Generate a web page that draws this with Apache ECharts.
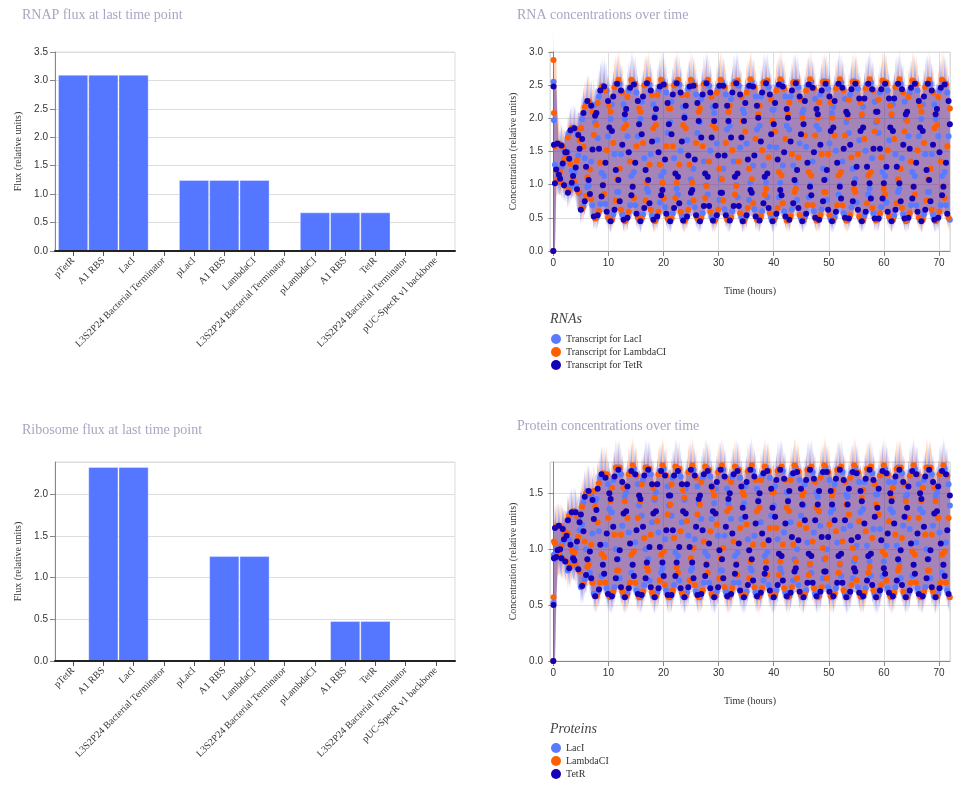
<!DOCTYPE html>
<html>
<head>
<meta charset="utf-8">
<title>Flux and concentrations</title>
<script src="https://cdn.jsdelivr.net/npm/echarts@6/dist/echarts.min.js"></script>
<style>
html, body { margin: 0; padding: 0; background: #fff; }
#chart { width: 972px; height: 809px; }
</style>
</head>
<body>
<div id="chart"></div>
<script>
// ---- bar charts (flux at last time point) ----
var partNames = ['pTetR', 'A1 RBS', 'LacI', 'L3S2P24 Bacterial Terminator',
  'pLacI', 'A1 RBS', 'LambdaCI', 'L3S2P24 Bacterial Terminator',
  'pLambdaCI', 'A1 RBS', 'TetR', 'L3S2P24 Bacterial Terminator', 'pUC-SpecR v1 backbone'];
var rnapFlux = [3.1, 3.1, 3.1, 0, 1.25, 1.25, 1.25, 0, 0.68, 0.68, 0.68, 0, 0];
var ribosomeFlux = [0, 2.33, 2.33, 0, 0, 1.26, 1.26, 0, 0, 0.48, 0.48, 0, 0];

// ---- time series (hours) ----
// three start-up samples, then a sample every sampleStep hours, each followed by a mid-step sample
var firstTimes = [0, 0.04, 0.12];
var sampleStart = 0.3;
var sampleStep = 0.47;
var sampleCount = 153;

// values at firstTimes + regular samples
var rnaLacI = [0, 2.55, 1.97,
  1.30, 1.10, 1.61, 1.02, 1.43,  1.49, 0.96, 1.86, 0.99, 1.44,  1.85, 0.67, 2.22, 0.99, 1.35,
  2.20, 0.50, 2.33, 1.18, 1.13,  2.42, 0.47, 2.21, 1.46, 0.89,  2.52, 0.55, 1.99, 1.73, 0.69,
  2.56, 0.69, 1.73, 1.99, 0.55,  2.52, 0.89, 1.46, 2.21, 0.47,  2.42, 1.13, 1.19, 2.39, 0.46,
  2.25, 1.40, 0.94, 2.51, 0.53,  2.04, 1.67, 0.73, 2.56, 0.66,  1.78, 1.94, 0.57, 2.54, 0.85,
  1.51, 2.17, 0.48, 2.45, 1.08,  1.24, 2.36, 0.46, 2.29, 1.35,  0.99, 2.49, 0.51, 2.08, 1.62,
  0.77, 2.55, 0.63, 1.83, 1.89,  0.60, 2.55, 0.81, 1.57, 2.13,  0.50, 2.47, 1.03, 1.29, 2.33,
  0.46, 2.33, 1.29, 1.03, 2.47,  0.50, 2.13, 1.57, 0.81, 2.55,  0.60, 1.89, 1.83, 0.63, 2.56,
  0.77, 1.62, 2.08, 0.51, 2.49,  0.99, 1.35, 2.29, 0.46, 2.36,  1.24, 1.08, 2.45, 0.48, 2.17,
  1.51, 0.85, 2.54, 0.57, 1.94,  1.78, 0.66, 2.56, 0.73, 1.67,  2.04, 0.53, 2.51, 0.94, 1.40,
  2.25, 0.46, 2.39, 1.19, 1.13,  2.42, 0.47, 2.21, 1.46, 0.89,  2.52, 0.55, 1.99, 1.73, 0.69,
  2.56, 0.69, 1.73];
var rnaLambdaCI = [0, 2.88, 2.08,
  1.58, 1.19, 1.20, 1.57, 0.98,  1.71, 1.31, 1.09, 1.84, 0.89,  1.85, 1.57, 0.83, 2.26, 0.78,
  1.75, 1.90, 0.60, 2.47, 0.86,  1.52, 2.19, 0.47, 2.47, 1.08,  1.24, 2.39, 0.45, 2.32, 1.35,
  0.98, 2.52, 0.50, 2.10, 1.63,  0.76, 2.58, 0.62, 1.85, 1.90,  0.59, 2.58, 0.80, 1.58, 2.15,
  0.49, 2.50, 1.03, 1.30, 2.35,  0.45, 2.35, 1.30, 1.03, 2.50,  0.49, 2.15, 1.58, 0.80, 2.58,
  0.59, 1.90, 1.85, 0.62, 2.58,  0.76, 1.63, 2.10, 0.50, 2.52,  0.98, 1.35, 2.32, 0.45, 2.39,
  1.24, 1.08, 2.47, 0.47, 2.19,  1.52, 0.85, 2.57, 0.57, 1.96,  1.80, 0.65, 2.59, 0.72, 1.69,
  2.06, 0.52, 2.54, 0.94, 1.41,  2.28, 0.46, 2.42, 1.19, 1.14,  2.45, 0.46, 2.24, 1.46, 0.89,
  2.55, 0.54, 2.01, 1.74, 0.69,  2.59, 0.69, 1.74, 2.01, 0.54,  2.55, 0.89, 1.46, 2.24, 0.46,
  2.45, 1.14, 1.19, 2.42, 0.46,  2.28, 1.41, 0.94, 2.54, 0.52,  2.06, 1.69, 0.72, 2.59, 0.65,
  1.80, 1.96, 0.57, 2.57, 0.85,  1.52, 2.19, 0.47, 2.47, 1.08,  1.24, 2.39, 0.45, 2.32, 1.35,
  0.98, 2.52, 0.50];
var rnaTetR = [0, 2.48, 1.60,
  1.02, 1.62, 1.09, 1.32, 1.49,  0.88, 1.82, 1.13, 1.26, 1.75,  0.62, 2.08, 1.27, 1.07, 2.19,
  0.52, 2.08, 1.54, 0.82, 2.48,  0.59, 1.86, 1.81, 0.62, 2.52,  0.75, 1.60, 2.06, 0.50, 2.46,
  0.97, 1.33, 2.26, 0.45, 2.33,  1.22, 1.07, 2.42, 0.47, 2.14,  1.49, 0.84, 2.51, 0.56, 1.91,
  1.76, 0.65, 2.53, 0.72, 1.65,  2.01, 0.52, 2.48, 0.92, 1.38,  2.23, 0.45, 2.36, 1.17, 1.12,
  2.39, 0.46, 2.19, 1.44, 0.88,  2.49, 0.54, 1.96, 1.71, 0.68,  2.53, 0.68, 1.71, 1.96, 0.54,
  2.49, 0.88, 1.44, 2.19, 0.46,  2.39, 1.12, 1.17, 2.36, 0.45,  2.23, 1.38, 0.92, 2.48, 0.52,
  2.01, 1.65, 0.72, 2.53, 0.65,  1.76, 1.91, 0.56, 2.51, 0.84,  1.49, 2.14, 0.47, 2.42, 1.07,
  1.22, 2.33, 0.45, 2.26, 1.33,  0.97, 2.46, 0.50, 2.06, 1.60,  0.75, 2.52, 0.62, 1.81, 1.86,
  0.59, 2.52, 0.79, 1.54, 2.10,  0.49, 2.44, 1.02, 1.27, 2.30,  0.45, 2.30, 1.27, 1.02, 2.44,
  0.49, 2.10, 1.54, 0.79, 2.52,  0.59, 1.86, 1.81, 0.62, 2.52,  0.75, 1.60, 2.06, 0.50, 2.46,
  0.97, 1.33, 2.26];

// values half a step after each regular sample
var rnaLacIMid = [
  1.60, 1.13, 1.27, 1.53, 0.98,  1.78, 1.21, 1.18, 1.79, 0.87,  1.99, 1.40, 0.96, 2.23, 0.69,
  1.94, 1.70, 0.71, 2.49, 0.71,  1.73, 1.99, 0.55, 2.52, 0.89,  1.46, 2.21, 0.47, 2.42, 1.13,
  1.19, 2.39, 0.47, 2.25, 1.40,  0.94, 2.51, 0.53, 2.04, 1.67,  0.73, 2.56, 0.66, 1.78, 1.94,
  0.57, 2.54, 0.85, 1.51, 2.17,  0.48, 2.45, 1.08, 1.24, 2.36,  0.46, 2.29, 1.35, 0.99, 2.49,
  0.51, 2.08, 1.62, 0.77, 2.55,  0.63, 1.83, 1.89, 0.60, 2.55,  0.81, 1.56, 2.13, 0.50, 2.47,
  1.03, 1.29, 2.33, 0.46, 2.33,  1.29, 1.03, 2.47, 0.50, 2.13,  1.56, 0.81, 2.55, 0.60, 1.89,
  1.83, 0.63, 2.55, 0.77, 1.62,  2.08, 0.51, 2.49, 0.99, 1.35,  2.29, 0.46, 2.36, 1.24, 1.08,
  2.45, 0.48, 2.17, 1.51, 0.85,  2.54, 0.57, 1.94, 1.78, 0.66,  2.56, 0.73, 1.67, 2.04, 0.53,
  2.51, 0.94, 1.40, 2.25, 0.47,  2.39, 1.19, 1.13, 2.42, 0.47,  2.21, 1.46, 0.89, 2.52, 0.55,
  1.99, 1.73, 0.69, 2.56, 0.69,  1.73, 1.99, 0.55, 2.52, 0.89,  1.46, 2.21, 0.47, 2.42, 1.13,
  1.19, 2.39, 0.47];
var rnaLambdaCIMid = [
  1.06, 1.62, 1.04, 1.38, 1.43,  0.91, 1.85, 1.05, 1.36, 1.67,  0.64, 2.17, 1.11, 1.23, 2.10,
  0.49, 2.23, 1.33, 0.99, 2.42,  0.50, 2.10, 1.63, 0.76, 2.58,  0.62, 1.85, 1.90, 0.59, 2.58,
  0.80, 1.58, 2.15, 0.49, 2.50,  1.03, 1.30, 2.35, 0.45, 2.35,  1.30, 1.03, 2.50, 0.49, 2.15,
  1.58, 0.80, 2.58, 0.59, 1.90,  1.85, 0.62, 2.58, 0.76, 1.63,  2.10, 0.50, 2.52, 0.98, 1.35,
  2.32, 0.45, 2.39, 1.24, 1.08,  2.47, 0.47, 2.19, 1.52, 0.85,  2.57, 0.57, 1.96, 1.80, 0.65,
  2.59, 0.72, 1.69, 2.06, 0.52,  2.54, 0.94, 1.41, 2.28, 0.46,  2.42, 1.19, 1.14, 2.45, 0.46,
  2.24, 1.46, 0.89, 2.55, 0.54,  2.01, 1.74, 0.69, 2.59, 0.69,  1.74, 2.01, 0.54, 2.55, 0.89,
  1.46, 2.24, 0.46, 2.45, 1.14,  1.19, 2.42, 0.46, 2.28, 1.41,  0.94, 2.54, 0.52, 2.06, 1.69,
  0.72, 2.59, 0.65, 1.80, 1.96,  0.57, 2.57, 0.85, 1.52, 2.19,  0.47, 2.47, 1.08, 1.24, 2.39,
  0.45, 2.32, 1.35, 0.98, 2.52,  0.50, 2.10, 1.63, 0.76, 2.58,  0.62, 1.85, 1.90, 0.59, 2.58,
  0.80, 1.58, 2.15];
var rnaTetRMid = [
  1.23, 1.15, 1.59, 0.99, 1.49,  1.39, 1.03, 1.85, 0.93, 1.54,  1.69, 0.75, 2.26, 0.86, 1.53,
  2.04, 0.54, 2.42, 0.99, 1.33,  2.26, 0.45, 2.33, 1.22, 1.07,  2.42, 0.47, 2.14, 1.49, 0.84,
  2.51, 0.56, 1.91, 1.76, 0.65,  2.53, 0.72, 1.65, 2.01, 0.52,  2.48, 0.92, 1.38, 2.23, 0.45,
  2.36, 1.17, 1.12, 2.39, 0.46,  2.19, 1.44, 0.88, 2.49, 0.54,  1.96, 1.71, 0.68, 2.53, 0.68,
  1.71, 1.96, 0.54, 2.49, 0.88,  1.44, 2.19, 0.46, 2.39, 1.12,  1.17, 2.36, 0.45, 2.23, 1.38,
  0.92, 2.48, 0.52, 2.01, 1.65,  0.72, 2.53, 0.65, 1.76, 1.91,  0.56, 2.51, 0.84, 1.49, 2.14,
  0.47, 2.42, 1.07, 1.22, 2.33,  0.45, 2.26, 1.33, 0.97, 2.46,  0.50, 2.06, 1.60, 0.75, 2.52,
  0.62, 1.81, 1.86, 0.59, 2.52,  0.79, 1.54, 2.10, 0.49, 2.44,  1.02, 1.27, 2.30, 0.45, 2.30,
  1.27, 1.02, 2.44, 0.49, 2.10,  1.54, 0.79, 2.52, 0.59, 1.86,  1.81, 0.62, 2.52, 0.75, 1.60,
  2.06, 0.50, 2.46, 0.97, 1.33,  2.26, 0.45, 2.33, 1.22, 1.07,  2.42, 0.47, 2.14, 1.49, 0.84,
  2.51, 0.56, 1.91];

var proteinLacI = [0, 0.52, 0.95,
  0.91, 1.21, 0.94, 1.06, 1.14,  0.81, 1.32, 0.95, 1.01, 1.28,  0.66, 1.42, 1.00, 0.90, 1.48,
  0.60, 1.45, 1.16, 0.76, 1.67,  0.65, 1.36, 1.33, 0.66, 1.73,  0.74, 1.21, 1.47, 0.60, 1.69,
  0.86, 1.06, 1.58, 0.57, 1.62,  1.00, 0.91, 1.67, 0.58, 1.51,  1.15, 0.79, 1.72, 0.63, 1.39,
  1.30, 0.68, 1.73, 0.72, 1.24,  1.44, 0.61, 1.70, 0.83, 1.09,  1.56, 0.57, 1.64, 0.97, 0.94,
  1.65, 0.58, 1.54, 1.12, 0.81,  1.71, 0.62, 1.41, 1.27, 0.70,  1.73, 0.70, 1.27, 1.41, 0.62,
  1.71, 0.81, 1.12, 1.54, 0.58,  1.65, 0.94, 0.97, 1.64, 0.57,  1.56, 1.09, 0.83, 1.70, 0.61,
  1.44, 1.24, 0.72, 1.73, 0.68,  1.30, 1.39, 0.63, 1.72, 0.79,  1.15, 1.51, 0.58, 1.67, 0.91,
  1.00, 1.62, 0.57, 1.58, 1.06,  0.86, 1.69, 0.60, 1.47, 1.21,  0.74, 1.73, 0.66, 1.33, 1.36,
  0.65, 1.72, 0.76, 1.18, 1.49,  0.59, 1.68, 0.89, 1.03, 1.60,  0.57, 1.60, 1.03, 0.89, 1.68,
  0.59, 1.49, 1.18, 0.76, 1.72,  0.65, 1.36, 1.33, 0.66, 1.73,  0.74, 1.21, 1.47, 0.60, 1.69,
  0.86, 1.06, 1.58];
var proteinLambdaCI = [0, 0.57, 1.07,
  1.05, 0.95, 1.21, 0.91, 1.12,  1.14, 0.85, 1.34, 0.87, 1.11,  1.31, 0.69, 1.50, 0.86, 1.04,
  1.52, 0.58, 1.59, 0.96, 0.93,  1.67, 0.58, 1.55, 1.13, 0.81,  1.73, 0.62, 1.43, 1.28, 0.70,
  1.75, 0.70, 1.28, 1.43, 0.62,  1.73, 0.81, 1.13, 1.55, 0.58,  1.67, 0.95, 0.98, 1.66, 0.57,
  1.58, 1.10, 0.84, 1.72, 0.61,  1.46, 1.25, 0.72, 1.75, 0.68,  1.31, 1.40, 0.63, 1.74, 0.79,
  1.16, 1.53, 0.58, 1.69, 0.92,  1.01, 1.64, 0.57, 1.60, 1.07,  0.87, 1.71, 0.60, 1.48, 1.22,
  0.74, 1.75, 0.66, 1.34, 1.37,  0.65, 1.74, 0.77, 1.19, 1.51,  0.59, 1.70, 0.89, 1.04, 1.62,
  0.57, 1.62, 1.04, 0.89, 1.70,  0.59, 1.51, 1.19, 0.77, 1.74,  0.65, 1.37, 1.34, 0.66, 1.75,
  0.74, 1.22, 1.48, 0.60, 1.71,  0.87, 1.07, 1.60, 0.57, 1.64,  1.01, 0.92, 1.69, 0.58, 1.53,
  1.16, 0.79, 1.74, 0.63, 1.40,  1.31, 0.68, 1.75, 0.72, 1.25,  1.46, 0.61, 1.72, 0.84, 1.10,
  1.58, 0.57, 1.66, 0.98, 0.95,  1.67, 0.58, 1.55, 1.13, 0.81,  1.73, 0.62, 1.43, 1.28, 0.70,
  1.75, 0.70, 1.28];
var proteinTetR = [0, 0.50, 0.92,
  1.19, 0.99, 1.00, 1.18, 0.89,  1.26, 1.04, 0.92, 1.33, 0.82,  1.31, 1.16, 0.77, 1.52, 0.74,
  1.27, 1.35, 0.64, 1.67, 0.78,  1.14, 1.50, 0.58, 1.65, 0.91,  0.99, 1.60, 0.57, 1.56, 1.05,
  0.86, 1.67, 0.60, 1.45, 1.20,  0.74, 1.71, 0.66, 1.32, 1.34,  0.65, 1.70, 0.76, 1.17, 1.48,
  0.59, 1.66, 0.88, 1.02, 1.58,  0.57, 1.58, 1.02, 0.88, 1.66,  0.59, 1.48, 1.17, 0.76, 1.70,
  0.65, 1.34, 1.32, 0.66, 1.71,  0.74, 1.20, 1.45, 0.60, 1.67,  0.86, 1.05, 1.56, 0.57, 1.60,
  0.99, 0.91, 1.65, 0.58, 1.50,  1.14, 0.78, 1.70, 0.63, 1.37,  1.29, 0.68, 1.71, 0.72, 1.23,
  1.43, 0.61, 1.68, 0.83, 1.08,  1.54, 0.57, 1.62, 0.96, 0.94,  1.63, 0.58, 1.52, 1.11, 0.80,
  1.69, 0.62, 1.40, 1.26, 0.70,  1.71, 0.70, 1.26, 1.40, 0.62,  1.69, 0.80, 1.11, 1.52, 0.58,
  1.63, 0.94, 0.96, 1.62, 0.57,  1.54, 1.08, 0.83, 1.68, 0.61,  1.43, 1.23, 0.72, 1.71, 0.68,
  1.29, 1.37, 0.63, 1.70, 0.78,  1.14, 1.50, 0.58, 1.65, 0.91,  0.99, 1.60, 0.57, 1.56, 1.05,
  0.86, 1.67, 0.60];

var proteinLacIMid = [
  1.02, 0.98, 1.20, 0.90, 1.14,  1.08, 0.89, 1.34, 0.84, 1.17,  1.22, 0.73, 1.52, 0.79, 1.14,
  1.43, 0.61, 1.64, 0.86, 1.04,  1.58, 0.57, 1.62, 1.00, 0.91,  1.67, 0.58, 1.51, 1.15, 0.79,
  1.72, 0.63, 1.39, 1.30, 0.68,  1.73, 0.72, 1.24, 1.44, 0.61,  1.70, 0.83, 1.09, 1.56, 0.57,
  1.64, 0.97, 0.94, 1.65, 0.58,  1.54, 1.12, 0.81, 1.71, 0.62,  1.41, 1.27, 0.70, 1.73, 0.70,
  1.27, 1.41, 0.62, 1.71, 0.81,  1.12, 1.54, 0.58, 1.65, 0.94,  0.97, 1.64, 0.57, 1.56, 1.09,
  0.83, 1.70, 0.61, 1.44, 1.24,  0.72, 1.73, 0.68, 1.30, 1.39,  0.63, 1.72, 0.79, 1.15, 1.51,
  0.58, 1.67, 0.91, 1.00, 1.62,  0.57, 1.58, 1.06, 0.86, 1.69,  0.60, 1.47, 1.21, 0.74, 1.73,
  0.66, 1.33, 1.36, 0.65, 1.72,  0.76, 1.18, 1.49, 0.59, 1.68,  0.89, 1.03, 1.60, 0.57, 1.60,
  1.03, 0.89, 1.68, 0.59, 1.49,  1.18, 0.76, 1.72, 0.65, 1.36,  1.33, 0.66, 1.73, 0.74, 1.21,
  1.47, 0.60, 1.69, 0.86, 1.06,  1.58, 0.57, 1.62, 1.00, 0.91,  1.67, 0.58, 1.51, 1.15, 0.79,
  1.72, 0.63, 1.39];
var proteinLambdaCIMid = [
  1.20, 0.96, 1.03, 1.16, 0.89,  1.30, 0.99, 0.97, 1.30, 0.80,  1.38, 1.07, 0.84, 1.51, 0.70,
  1.38, 1.24, 0.70, 1.68, 0.70,  1.28, 1.43, 0.62, 1.73, 0.81,  1.13, 1.55, 0.58, 1.67, 0.95,
  0.98, 1.66, 0.57, 1.58, 1.10,  0.84, 1.72, 0.61, 1.46, 1.25,  0.72, 1.75, 0.68, 1.31, 1.40,
  0.63, 1.74, 0.79, 1.16, 1.53,  0.58, 1.69, 0.92, 1.01, 1.64,  0.57, 1.60, 1.07, 0.87, 1.71,
  0.60, 1.48, 1.22, 0.74, 1.75,  0.66, 1.34, 1.37, 0.65, 1.74,  0.77, 1.19, 1.51, 0.59, 1.70,
  0.89, 1.04, 1.62, 0.57, 1.62,  1.04, 0.89, 1.70, 0.59, 1.51,  1.19, 0.77, 1.74, 0.65, 1.37,
  1.34, 0.66, 1.75, 0.74, 1.22,  1.48, 0.60, 1.71, 0.87, 1.07,  1.60, 0.57, 1.64, 1.01, 0.92,
  1.69, 0.58, 1.53, 1.16, 0.79,  1.74, 0.63, 1.40, 1.31, 0.68,  1.75, 0.72, 1.25, 1.46, 0.61,
  1.72, 0.84, 1.10, 1.58, 0.57,  1.66, 0.98, 0.95, 1.67, 0.58,  1.55, 1.13, 0.81, 1.73, 0.62,
  1.43, 1.28, 0.70, 1.75, 0.70,  1.28, 1.43, 0.62, 1.73, 0.81,  1.13, 1.55, 0.58, 1.67, 0.95,
  0.98, 1.66, 0.57];
var proteinTetRMid = [
  0.93, 1.21, 0.92, 1.09, 1.12,  0.83, 1.33, 0.90, 1.07, 1.24,  0.67, 1.47, 0.91, 0.98, 1.44,
  0.58, 1.54, 1.04, 0.86, 1.64,  0.60, 1.45, 1.20, 0.74, 1.71,  0.66, 1.32, 1.34, 0.65, 1.70,
  0.76, 1.17, 1.48, 0.59, 1.66,  0.88, 1.02, 1.58, 0.57, 1.58,  1.02, 0.88, 1.66, 0.59, 1.48,
  1.17, 0.76, 1.70, 0.65, 1.34,  1.32, 0.66, 1.71, 0.74, 1.20,  1.45, 0.60, 1.67, 0.86, 1.05,
  1.56, 0.57, 1.60, 0.99, 0.91,  1.65, 0.58, 1.50, 1.14, 0.78,  1.70, 0.63, 1.37, 1.29, 0.68,
  1.71, 0.72, 1.23, 1.43, 0.61,  1.68, 0.83, 1.08, 1.54, 0.57,  1.62, 0.96, 0.94, 1.63, 0.58,
  1.52, 1.11, 0.80, 1.69, 0.62,  1.40, 1.26, 0.70, 1.71, 0.70,  1.26, 1.40, 0.62, 1.69, 0.80,
  1.11, 1.52, 0.58, 1.63, 0.94,  0.96, 1.62, 0.57, 1.54, 1.08,  0.83, 1.68, 0.61, 1.43, 1.23,
  0.72, 1.71, 0.68, 1.29, 1.37,  0.63, 1.70, 0.78, 1.14, 1.50,  0.58, 1.65, 0.91, 0.99, 1.60,
  0.57, 1.56, 1.05, 0.86, 1.67,  0.60, 1.45, 1.20, 0.74, 1.71,  0.66, 1.32, 1.34, 0.65, 1.70,
  0.76, 1.17, 1.48];

// shaded band: spread of the neighbouring samples, plus base + slope * value around each sample
var rnaBand = { base: 0.13, slope: 0.12 };
var proteinBand = { base: 0.1, slope: 0.09 };
var bandWindow = 3;

var serif = "'Liberation Serif', 'Times New Roman', serif";
var sans = "'Liberation Sans', Arial, sans-serif";
var titleColor = '#a7a7c1';
var lineGrey = '#dddddd';
var axisGrey = '#888888';
var barBlue = '#5577ff';
var colLacI = '#5a7bff';
var colLambdaCI = '#ff5f00';
var colTetR = '#1400b6';

var chart = echarts.init(document.getElementById('chart'));

// [time, value] pairs in time order
function samplePoints(main, mid) {
  var pts = [];
  for (var i = 0; i < firstTimes.length; i++) pts.push([firstTimes[i], main[i]]);
  for (var k = 0; k < sampleCount; k++) {
    var t = sampleStart + k * sampleStep;
    pts.push([+t.toFixed(3), main[firstTimes.length + k]]);
    pts.push([+(t + sampleStep / 2).toFixed(3), mid[k]]);
  }
  return pts;
}

// band polygon (upper edge forward, lower edge back), then the dots
function timeSeries(name, main, mid, color, band, idx) {
  var pts = samplePoints(main, mid);
  var upper = [], lower = [];
  pts.forEach(function (p, i) {
    var half = band.base + band.slope * p[1];
    var hi = p[1] + half, lo = p[1] - half;
    for (var j = Math.max(0, i - bandWindow); j <= Math.min(pts.length - 1, i + bandWindow); j++) {
      hi = Math.max(hi, pts[j][1]);
      lo = Math.min(lo, pts[j][1]);
    }
    upper.push([p[0], hi]);
    lower.push([p[0], Math.max(0, lo)]);
  });
  return [
    {
      type: 'custom', name: name + ' (band)', xAxisIndex: idx, yAxisIndex: idx,
      silent: true, clip: false, data: [[pts[0][0], 0]],
      renderItem: function (params, api) {
        var poly = upper.map(function (p) { return api.coord(p); });
        for (var i = lower.length - 1; i >= 0; i--) poly.push(api.coord(lower[i]));
        return { type: 'polygon', shape: { points: poly }, style: { fill: color, opacity: 0.28 } };
      }
    },
    {
      type: 'scatter', name: name, xAxisIndex: idx, yAxisIndex: idx, data: pts,
      symbolSize: 6, itemStyle: { color: color, opacity: 1 }, clip: false, silent: true
    }
  ];
}

function titleText(text, left, top) {
  return { text: text, left: left, top: top, padding: 0,
    textStyle: { fontFamily: serif, fontSize: 14, fontWeight: 'normal', color: titleColor } };
}
function legendTitle(text, left, top) {
  return { text: text, left: left, top: top, padding: 0,
    textStyle: { fontFamily: serif, fontSize: 14, fontStyle: 'italic', fontWeight: 'normal', color: '#444' } };
}
function legendBox(names, top) {
  return { data: names, left: 551, top: top, padding: 0, orient: 'vertical', icon: 'circle',
    itemWidth: 10, itemHeight: 10, itemGap: 3, selectedMode: false,
    textStyle: { fontFamily: serif, fontSize: 10, color: '#333' } };
}
function gridBox(left, top, width, frame) {
  return { left: left, top: top, width: width, height: 199, show: !!frame,
    borderColor: lineGrey, borderWidth: 1, outerBoundsMode: 'none' };
}
function valueY(idx, max, name, visible) {
  return {
    gridIndex: idx, type: 'value', min: 0, max: max, interval: 0.5, show: visible,
    name: name, nameLocation: 'middle', nameGap: 32, nameRotate: 90,
    nameTextStyle: { fontFamily: serif, fontSize: 10, color: '#333' },
    axisLine: { show: true, lineStyle: { color: axisGrey } },
    axisTick: { show: true, length: 5, lineStyle: { color: axisGrey } },
    axisLabel: { fontFamily: sans, fontSize: 10, color: '#333', margin: 7, showMaxLabel: max % 0.5 === 0,
      formatter: function (v) { return v.toFixed(1); } },
    splitLine: { show: true, lineStyle: { color: lineGrey } }
  };
}
function frameX(idx) {
  return { gridIndex: idx, type: 'value', min: 0, max: 1, z: 5,
    axisLine: { show: true, lineStyle: { color: '#222', width: 2 } },
    axisTick: { show: false }, axisLabel: { show: false }, splitLine: { show: false } };
}
function partX(idx) {
  return { gridIndex: idx, type: 'category', data: partNames,
    axisLine: { show: false },
    axisTick: { show: true, alignWithLabel: true, length: 5, lineStyle: { color: '#555' } },
    axisLabel: { interval: 0, rotate: 45, margin: 8, fontFamily: serif, fontSize: 10, color: '#333' },
    splitLine: { show: false } };
}
function timeX(idx) {
  return { gridIndex: idx, type: 'value', min: -0.6, max: 72, splitNumber: 8,
    name: 'Time (hours)', nameLocation: 'middle', nameGap: 35,
    nameTextStyle: { fontFamily: serif, fontSize: 10, color: '#333' },
    axisLine: { show: true, lineStyle: { color: axisGrey } },
    axisTick: { show: true, length: 5, lineStyle: { color: axisGrey } },
    axisLabel: { fontFamily: sans, fontSize: 10, color: '#333', margin: 7, showMinLabel: false, showMaxLabel: false },
    splitLine: { show: true, lineStyle: { color: lineGrey } } };
}
function fluxBars(values, idx) {
  return { type: 'bar', xAxisIndex: idx, yAxisIndex: idx, data: values, barCategoryGap: '0%',
    silent: true, itemStyle: { color: barBlue, borderColor: 'rgba(255,255,255,0.35)', borderWidth: 1 } };
}

var series = [fluxBars(rnapFlux, 1), fluxBars(ribosomeFlux, 3)]
  .concat(timeSeries('Transcript for LacI', rnaLacI, rnaLacIMid, colLacI, rnaBand, 4))
  .concat(timeSeries('Transcript for LambdaCI', rnaLambdaCI, rnaLambdaCIMid, colLambdaCI, rnaBand, 4))
  .concat(timeSeries('Transcript for TetR', rnaTetR, rnaTetRMid, colTetR, rnaBand, 4))
  .concat(timeSeries('LacI', proteinLacI, proteinLacIMid, colLacI, proteinBand, 5))
  .concat(timeSeries('LambdaCI', proteinLambdaCI, proteinLambdaCIMid, colLambdaCI, proteinBand, 5))
  .concat(timeSeries('TetR', proteinTetR, proteinTetRMid, colTetR, proteinBand, 5));

var option = {
  animation: false,
  backgroundColor: '#fff',
  title: [
    titleText('RNAP flux at last time point', 22, 8),
    titleText('RNA concentrations over time', 517, 8),
    titleText('Ribosome flux at last time point', 22, 423),
    titleText('Protein concentrations over time', 517, 419),
    legendTitle('RNAs', 550, 312),
    legendTitle('Proteins', 550, 722)
  ],
  legend: [
    legendBox(['Transcript for LacI', 'Transcript for LambdaCI', 'Transcript for TetR'], 334),
    legendBox(['LacI', 'LambdaCI', 'TetR'], 743)
  ],
  grid: [
    gridBox(55, 52, 400, true),   // 0 RNAP frame
    gridBox(58, 52, 393, false),  // 1 RNAP bars
    gridBox(55, 462, 400, true),  // 2 ribosome frame
    gridBox(58, 462, 393, false), // 3 ribosome bars
    gridBox(550, 52, 400, true),  // 4 RNA
    gridBox(550, 462, 400, true)  // 5 protein
  ],
  xAxis: [frameX(0), partX(1), frameX(2), partX(3), timeX(4), timeX(5)],
  yAxis: [
    valueY(0, 3.5, 'Flux (relative units)', true),
    valueY(1, 3.5, '', false),
    valueY(2, 2.39, 'Flux (relative units)', true),
    valueY(3, 2.39, '', false),
    valueY(4, 3, 'Concentration (relative units)', true),
    valueY(5, 1.78, 'Concentration (relative units)', true)
  ],
  series: series
};

chart.setOption(option);
</script>
</body>
</html>
